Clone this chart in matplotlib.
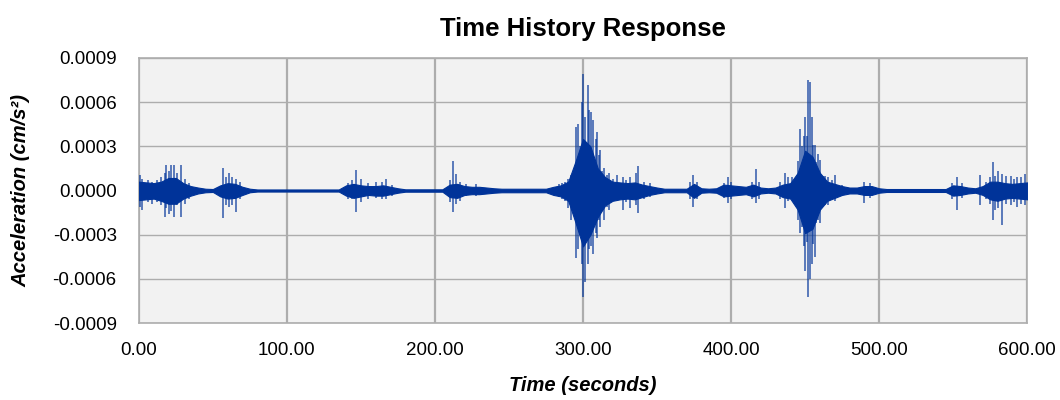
import matplotlib.pyplot as plt
import numpy as np

# Огибающая основного сигнала (ед. 1e-4 см/с^2), шаг 5 с
band_t = np.arange(0, 605, 5)
band_up = [0.6, 0.55, 0.5, 0.6, 0.85, 0.85, 0.5, 0.3, 0.2, 0.12, 0.1, 0.35, 0.5, 0.45, 0.25, 0.12,
           0.07, 0.07, 0.07, 0.07, 0.07, 0.07, 0.07, 0.07, 0.07, 0.07, 0.07, 0.07,
           0.35, 0.45, 0.35, 0.3, 0.3, 0.35, 0.25, 0.15,
           0.08, 0.08, 0.08, 0.08, 0.08, 0.08,
           0.4, 0.45, 0.3, 0.25, 0.25, 0.2, 0.15,
           0.12, 0.12, 0.12, 0.12, 0.12, 0.12, 0.12,
           0.25, 0.35, 0.6, 2.0, 3.5, 3.0, 1.5, 0.9, 0.6, 0.55, 0.5, 0.55, 0.4, 0.3, 0.2,
           0.12, 0.12, 0.12, 0.12,
           0.45, 0.15, 0.12, 0.15, 0.4, 0.35, 0.3, 0.25, 0.4, 0.2, 0.15, 0.2, 0.4, 0.5,
           1.2, 2.7, 2.3, 1.2, 0.6, 0.45, 0.3, 0.2, 0.2, 0.3, 0.3, 0.15,
           0.1, 0.1, 0.1, 0.1, 0.1, 0.1, 0.1, 0.1, 0.1,
           0.35, 0.3, 0.2, 0.15, 0.3, 0.6, 0.6, 0.5, 0.45, 0.5, 0.55]
band_lo = [-0.65, -0.6, -0.55, -0.7, -0.9, -0.9, -0.55, -0.35, -0.2, -0.12, -0.1, -0.4, -0.55, -0.5, -0.3, -0.12,
           -0.07, -0.07, -0.07, -0.07, -0.07, -0.07, -0.07, -0.07, -0.07, -0.07, -0.07, -0.07,
           -0.35, -0.5, -0.4, -0.3, -0.35, -0.35, -0.25, -0.15,
           -0.08, -0.08, -0.08, -0.08, -0.08, -0.08,
           -0.45, -0.5, -0.3, -0.25, -0.25, -0.2, -0.15,
           -0.12, -0.12, -0.12, -0.12, -0.12, -0.12, -0.12,
           -0.3, -0.4, -0.7, -2.2, -3.8, -3.0, -1.8, -1.0, -0.7, -0.6, -0.55, -0.6, -0.45, -0.3, -0.2,
           -0.12, -0.12, -0.12, -0.12,
           -0.5, -0.15, -0.12, -0.15, -0.4, -0.35, -0.3, -0.25, -0.4, -0.2, -0.15, -0.2, -0.45, -0.55,
           -1.3, -2.9, -2.6, -1.3, -0.7, -0.5, -0.3, -0.2, -0.2, -0.3, -0.3, -0.15,
           -0.1, -0.1, -0.1, -0.1, -0.1, -0.1, -0.1, -0.1, -0.1,
           -0.35, -0.3, -0.2, -0.15, -0.3, -0.6, -0.7, -0.55, -0.5, -0.55, -0.6]

# Отдельные пики: время (с), верх и низ (ед. 1e-4)
spike_t = [1, 2.3, 6, 9, 12, 15, 17.5, 18, 20.3, 21.4, 23.6, 26, 28.2, 31, 34,
           57, 59, 60.8, 63, 65.3, 68,
           141, 144, 147, 150, 155, 160, 164, 167, 171,
           210, 212.4, 214, 217, 221, 228,
           284, 286, 288, 290, 292, 294, 295.5, 296.5, 298, 299, 300.2, 301.5, 303.2, 304.2,
           305.5, 307, 308.5, 309.5, 311, 311.8, 313, 314.5, 316, 317.5, 320, 323, 327, 329,
           332, 335.5, 337.4, 341, 345,
           372, 374, 377, 395, 397.7, 400, 414, 417, 419,
           433, 436.5, 438.7, 441, 443, 445, 446.7, 448, 449, 450.2, 451, 452.2, 453.4, 454.5,
           455.5, 456.8, 457.7, 459, 460.3, 462, 463.5, 465.8, 468, 470.5, 475, 490, 494,
           549, 552.5, 556, 568, 572, 575, 576.8, 578.5, 580, 583, 586, 589, 591, 593, 596, 598.6]
spike_up = [1.05, 0.8, 0.7, 0.6, 0.7, 0.9, 1.2, 1.75, 1.3, 1.75, 1.75, 1.2, 1.75, 0.8, 0.5,
            1.5, 0.9, 1.2, 0.9, 0.8, 0.6,
            0.5, 0.7, 1.4, 0.8, 0.5, 0.55, 0.6, 0.75, 0.4,
            0.7, 2.0, 1.1, 0.6, 0.45, 0.45,
            0.45, 0.5, 0.6, 0.8, 1.05, 1.3, 4.3, 4.5, 3.0, 6.0, 7.9, 5.0, 7.2, 5.5,
            5.3, 4.8, 3.5, 4.0, 2.4, 2.75, 1.3, 1.5, 1.05, 1.2, 0.8, 1.05, 0.9, 0.7,
            0.9, 1.2, 1.65, 0.6, 0.5,
            0.6, 1.05, 0.6, 0.5, 0.95, 0.6, 0.6, 1.45, 0.6,
            0.6, 1.2, 0.9, 0.95, 0.8, 2.0, 4.2, 3.0, 3.7, 5.0, 3.7, 7.5, 7.4, 5.0,
            3.1, 3.1, 1.95, 2.5, 2.1, 1.0, 1.0, 0.9, 0.7, 1.05, 0.4, 0.6, 0.5,
            0.5, 0.95, 0.5, 1.05, 0.6, 0.9, 1.95, 1.0, 1.3, 1.15, 1.0, 1.0, 0.8, 0.9, 0.9, 1.15]
spike_lo = [-1.1, -1.3, -0.8, -0.9, -0.8, -1.0, -1.8, -1.2, -1.6, -1.4, -1.8, -1.0, -1.8, -0.9, -0.6,
            -1.9, -1.0, -1.1, -1.0, -1.45, -0.6,
            -0.6, -0.6, -1.45, -0.8, -0.6, -0.5, -0.55, -0.6, -0.4,
            -0.8, -1.45, -0.9, -0.7, -0.4, -0.35,
            -0.45, -0.55, -0.7, -1.2, -2.0, -1.6, -4.6, -4.0, -3.0, -5.0, -7.2, -6.2, -5.0, -4.0,
            -3.8, -4.3, -2.9, -3.2, -2.0, -2.5, -1.4, -2.0, -1.1, -1.3, -0.7, -0.65, -1.3, -0.8,
            -1.2, -1.0, -1.55, -0.6, -0.45,
            -0.6, -1.1, -0.6, -0.5, -0.85, -0.6, -0.6, -0.85, -0.6,
            -0.6, -1.2, -0.7, -0.6, -0.9, -2.0, -2.9, -2.5, -3.8, -5.5, -3.5, -7.2, -6.0, -5.0,
            -3.6, -4.5, -2.2, -2.0, -2.2, -1.0, -1.0, -1.0, -0.6, -0.7, -0.4, -0.85, -0.5,
            -0.6, -1.3, -0.5, -1.0, -0.6, -0.9, -2.0, -1.3, -1.2, -2.35, -0.9, -1.0, -0.8, -1.15, -0.9, -1.0]

x_ticks = [0, 100, 200, 300, 400, 500, 600]
y_ticks = [-0.0009, -0.0006, -0.0003, 0.0, 0.0003, 0.0006, 0.0009]

plt.rcParams['font.family'] = ['Liberation Sans', 'DejaVu Sans']

fig = plt.figure(figsize=(10.6, 4.0), dpi=100)
ax = fig.add_axes([0.131, 0.1925, 0.838, 0.6625])
ax.set_facecolor('#F2F2F2')

blue = '#003399'
scale = 1e-4
ax.fill_between(band_t, np.array(band_lo) * scale, np.array(band_up) * scale,
                color=blue, linewidth=0.8, edgecolor=blue, zorder=3)
ax.vlines(spike_t, np.array(spike_lo) * scale, np.array(spike_up) * scale,
          color=blue, linewidth=1.1, alpha=0.8, zorder=3)

ax.set_xlim(0, 600)
ax.set_ylim(-0.0009, 0.0009)
ax.set_xticks(x_ticks)
ax.set_xticklabels([f'{v:.2f}' for v in x_ticks])
ax.set_yticks(y_ticks)
ax.set_yticklabels([f'{v:.4f}' for v in y_ticks])
ax.tick_params(length=0, labelsize=13.5)
ax.tick_params(axis='y', pad=16)
ax.tick_params(axis='x', pad=14)

ax.xaxis.grid(True, color='#ADADAD', linewidth=1.6)
ax.yaxis.grid(True, color='#ADADAD', linewidth=1.0)
ax.set_axisbelow(True)
for s in ax.spines.values():
    s.set_color('#ADADAD')
    s.set_linewidth(1.2)

ax.set_title('Time History Response', fontsize=18.5, fontweight='bold', pad=16)
ax.set_xlabel('Time (seconds)', fontsize=14.5, fontweight='bold', style='italic', labelpad=12)
ax.set_ylabel('Acceleration (cm/s²)', fontsize=14.5, fontweight='bold', style='italic', labelpad=16)

fig.savefig('out.png', dpi=100)
